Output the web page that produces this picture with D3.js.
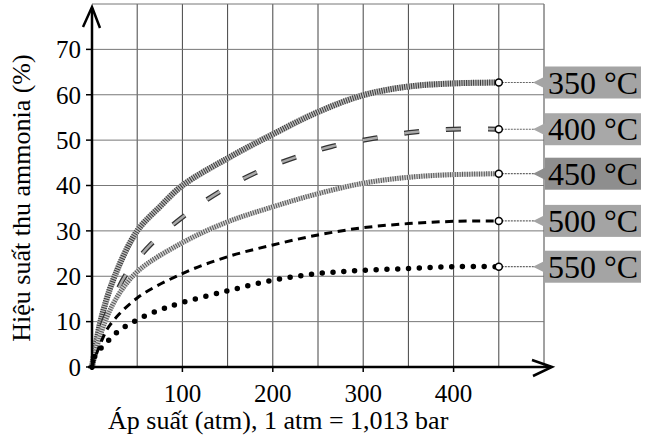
<!DOCTYPE html>
<html>
<head>
<meta charset="utf-8">
<script src="https://cdn.jsdelivr.net/npm/d3@7"></script>
<style>
  body { margin: 0; background: #fff; }
  svg text { font-family: "Liberation Serif", "Times New Roman", serif; }
</style>
</head>
<body>
<div id="main-vis"></div>
<script>
// series labels and values
var temps = ["350 °C", "400 °C", "450 °C", "500 °C", "550 °C"];

var p350 = [0, 10, 25, 50, 75, 100, 150, 200, 250, 300, 350, 400, 450];
var y350 = [0, 10.5, 20, 30, 35.3, 40, 46, 51.3, 56.2, 59.9, 61.8, 62.5, 62.7];

var p400 = [0, 10, 25, 38, 65, 100, 140, 183, 225, 265, 312, 357, 400, 450];
var y400 = [0, 8.5, 15.5, 20.5, 27, 33, 38.5, 43, 46.2, 48.6, 50.4, 51.8, 52.4, 52.4];

var p450 = [0, 10, 25, 50, 100, 150, 200, 250, 300, 350, 400, 450];
var y450 = [0, 7.5, 14.5, 21, 27.4, 32, 35.3, 38.2, 40.5, 41.8, 42.4, 42.6];

var p500 = [0, 10, 20, 50, 100, 150, 200, 250, 300, 350, 400, 450];
var y500 = [0, 5.5, 9.3, 15.2, 20.6, 24.3, 26.9, 29.1, 30.7, 31.6, 32.1, 32.2];

var p550 = [0, 3, 10, 20, 30, 50, 75, 100, 150, 200, 250, 300, 350, 400, 450];
var y550 = [0, 2.3, 4.2, 6.2, 8, 10.4, 12.6, 14.2, 16.8, 19.1, 20.6, 21.3, 21.7, 22.1, 22.1];

var xTicks = [100, 200, 300, 400];
var yTicks = [0, 10, 20, 30, 40, 50, 60, 70];
var xGrid = [50, 100, 150, 200, 250, 300, 350, 400, 450, 500];
var yGrid = [10, 20, 30, 40, 50, 60, 70, 80];

var xTitle = "Áp suất (atm), 1 atm = 1,013 bar";
var yTitle = "Hiệu suất thu ammonia (%)";

var width = 652, height = 440;

var x = d3.scaleLinear().domain([0, 500]).range([92, 544]);
var y = d3.scaleLinear().domain([0, 80]).range([367, 4]);

var svg = d3.select("#main-vis").append("svg")
  .attr("width", width)
  .attr("height", height);

function serifText(sel) {
  return sel.attr("font-family", "Liberation Serif");
}

// grid
svg.append("g").selectAll("line")
  .data(xGrid)
  .enter().append("line")
  .attr("x1", function (d) { return x(d); })
  .attr("x2", function (d) { return x(d); })
  .attr("y1", y(0))
  .attr("y2", y(80))
  .attr("stroke", "#444")
  .attr("stroke-width", 1);

svg.append("g").selectAll("line")
  .data(yGrid)
  .enter().append("line")
  .attr("x1", x(0))
  .attr("x2", x(500))
  .attr("y1", function (d) { return y(d); })
  .attr("y2", function (d) { return y(d); })
  .attr("stroke", "#777")
  .attr("stroke-width", 1);

// curves
var line = d3.line()
  .x(function (d) { return x(d[0]); })
  .y(function (d) { return y(d[1]); })
  .curve(d3.curveCatmullRom.alpha(0.5));

function pts(p, v) { return p.map(function (d, i) { return [d, v[i]]; }); }

var series = [pts(p350, y350), pts(p400, y400), pts(p450, y450), pts(p500, y500), pts(p550, y550)];

// 350: thick hatched grey
svg.append("path").attr("d", line(series[0]))
  .attr("fill", "none").attr("stroke", "#bdbdbd").attr("stroke-width", 6);
svg.append("path").attr("d", line(series[0]))
  .attr("fill", "none").attr("stroke", "#3a3a3a").attr("stroke-width", 6)
  .attr("stroke-dasharray", "1,1.3");

// 400: short hatched segments
svg.append("path").attr("d", line(series[1]))
  .attr("fill", "none").attr("stroke", "#333").attr("stroke-width", 5)
  .attr("stroke-dasharray", "15,27");
svg.append("path").attr("d", line(series[1]))
  .attr("fill", "none").attr("stroke", "#aaa").attr("stroke-width", 2.5)
  .attr("stroke-dasharray", "15,27");

// 450: hatched grey, a bit thinner and lighter
svg.append("path").attr("d", line(series[2]))
  .attr("fill", "none").attr("stroke", "#cfcfcf").attr("stroke-width", 5);
svg.append("path").attr("d", line(series[2]))
  .attr("fill", "none").attr("stroke", "#555").attr("stroke-width", 5)
  .attr("stroke-dasharray", "1,1.4");

// 500: black dashes
svg.append("path").attr("d", line(series[3]))
  .attr("fill", "none").attr("stroke", "#000").attr("stroke-width", 3)
  .attr("stroke-dasharray", "8,5.5");

// 550: round dots
svg.append("path").attr("d", line(series[4]))
  .attr("fill", "none").attr("stroke", "#000").attr("stroke-width", 5.5)
  .attr("stroke-linecap", "round")
  .attr("stroke-dasharray", "0,10.8");

// axes
svg.append("line")
  .attr("x1", x(0) - 4).attr("x2", 551)
  .attr("y1", y(0)).attr("y2", y(0))
  .attr("stroke", "#000").attr("stroke-width", 2.5);
svg.append("path")
  .attr("d", "M532,360L552," + y(0) + "L533,376")
  .attr("fill", "none").attr("stroke", "#000").attr("stroke-width", 2.5);

svg.append("line")
  .attr("x1", x(0)).attr("x2", x(0))
  .attr("y1", y(0) + 3).attr("y2", 8)
  .attr("stroke", "#000").attr("stroke-width", 2.5);
svg.append("path")
  .attr("d", "M83,27L" + x(0) + ",7L100,28")
  .attr("fill", "none").attr("stroke", "#000").attr("stroke-width", 2.5);

// y ticks + labels
svg.append("g").selectAll("line")
  .data(yTicks)
  .enter().append("line")
  .attr("x1", x(0) - 6).attr("x2", x(0))
  .attr("y1", function (d) { return y(d); })
  .attr("y2", function (d) { return y(d); })
  .attr("stroke", "#000").attr("stroke-width", 1.5);
svg.append("g").selectAll("text")
  .data(yTicks)
  .enter().append("text")
  .call(serifText)
  .attr("x", 81)
  .attr("y", function (d) { return y(d); })
  .attr("dy", "0.35em")
  .attr("text-anchor", "end")
  .attr("font-size", 25)
  .text(function (d) { return d; });

// x ticks + labels
svg.append("g").selectAll("line")
  .data(xTicks)
  .enter().append("line")
  .attr("x1", function (d) { return x(d); })
  .attr("x2", function (d) { return x(d); })
  .attr("y1", y(0)).attr("y2", y(0) + 5)
  .attr("stroke", "#000").attr("stroke-width", 1.5);
svg.append("g").selectAll("text")
  .data(xTicks)
  .enter().append("text")
  .call(serifText)
  .attr("x", function (d) { return x(d); })
  .attr("y", 402)
  .attr("text-anchor", "middle")
  .attr("font-size", 25)
  .text(function (d) { return d; });

// axis titles
svg.append("text")
  .call(serifText)
  .attr("x", 108).attr("y", 429)
  .attr("font-size", 26)
  .text(xTitle);
svg.append("text")
  .call(serifText)
  .attr("transform", "translate(30,198) rotate(-90)")
  .attr("text-anchor", "middle")
  .attr("font-size", 26)
  .text(yTitle);

// end markers and labels
var boxFill = ["#a4a4a4", "#a8a8a8", "#8e8e8e", "#a4a4a4", "#a4a4a4"];
series.forEach(function (s, i) {
  var last = s[s.length - 1];
  var cx = x(last[0]), cy = y(last[1]);
  var g = svg.append("g");
  g.append("line")
    .attr("x1", cx).attr("x2", 536)
    .attr("y1", cy).attr("y2", cy)
    .attr("stroke", "#666").attr("stroke-width", 1.2)
    .attr("stroke-dasharray", "2,1");
  g.append("path")
    .attr("d", "M533," + cy + "L547," + (cy - 7) + "L547," + (cy + 7) + "Z")
    .attr("fill", boxFill[i]);
  g.append("rect")
    .attr("x", 545).attr("y", cy - 16)
    .attr("width", 96).attr("height", 32)
    .attr("fill", boxFill[i]);
  g.append("text")
    .call(serifText)
    .attr("x", 593).attr("y", cy)
    .attr("dy", "0.35em")
    .attr("text-anchor", "middle")
    .attr("font-size", 32)
    .attr("textLength", 90)
    .text(temps[i]);
  g.append("circle")
    .attr("cx", cx).attr("cy", cy).attr("r", 3.5)
    .attr("fill", "#fff").attr("stroke", "#000").attr("stroke-width", 1.5);
});
</script>
</body>
</html>
